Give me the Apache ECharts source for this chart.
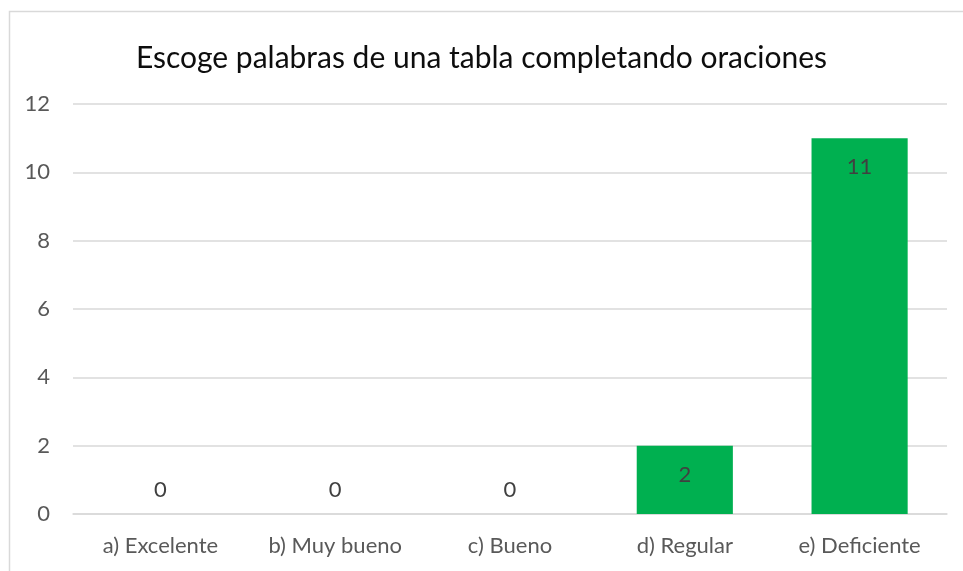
<!DOCTYPE html>
<html>
<head>
<meta charset="utf-8">
<script src="https://cdn.jsdelivr.net/npm/echarts@6/dist/echarts.min.js"></script>
<style>
  html, body { margin: 0; padding: 0; background: #fff; }
  #chart { width: 963px; height: 571px; }
</style>
</head>
<body>
<div id="chart"></div>
<script>
// datos del gráfico
const categorias = ['a) Excelente', 'b) Muy bueno', 'c) Bueno', 'd) Regular', 'e) Deficiente'];
const valores = [0, 0, 0, 2, 11];
const ticksY = [0, 2, 4, 6, 8, 10, 12];

const chart = echarts.init(document.getElementById('chart'));
const fuente = 'Lato';

const option = {
    animation: false,
    backgroundColor: '#fff',
    title: {
        text: 'Escoge palabras de una tabla completando oraciones',
        left: 'center',
        top: 38,
        textStyle: { fontFamily: fuente, fontSize: 30, fontWeight: 'normal', color: '#0d0d0d' }
    },
    graphic: [{
        type: 'rect',
        shape: { x: 9.5, y: 11.5, width: 1000, height: 600 },
        style: { fill: 'none', stroke: '#d9d9d9', lineWidth: 1.5 },
        silent: true
    }],
    grid: { left: 73, right: 16, top: 104, bottom: 57, containLabel: false },
    xAxis: {
        type: 'category',
        data: categorias,
        axisLine: { lineStyle: { color: '#d9d9d9', width: 1.5 } },
        axisTick: { show: false },
        axisLabel: { fontFamily: fuente, fontSize: 22, color: '#595959', margin: 21 }
    },
    yAxis: {
        type: 'value',
        min: ticksY[0],
        max: ticksY[ticksY.length - 1],
        interval: 2,
        axisLine: { show: false },
        axisTick: { show: false },
        splitLine: { lineStyle: { color: '#d9d9d9', width: 1.5 } },
        axisLabel: { fontFamily: fuente, fontSize: 22, color: '#595959', margin: 23 }
    },
    series: [{
        type: 'bar',
        data: valores.map(v => ({
            value: v,
            label: v === 0
                ? { position: 'top', distance: 13 }
                : { position: 'insideTop', distance: 18 }
        })),
        barWidth: '55%',
        itemStyle: { color: '#00b050' },
        label: {
            show: true,
            fontFamily: fuente,
            fontSize: 22,
            color: '#404040'
        }
    }]
};

chart.setOption(option);
</script>
</body>
</html>
